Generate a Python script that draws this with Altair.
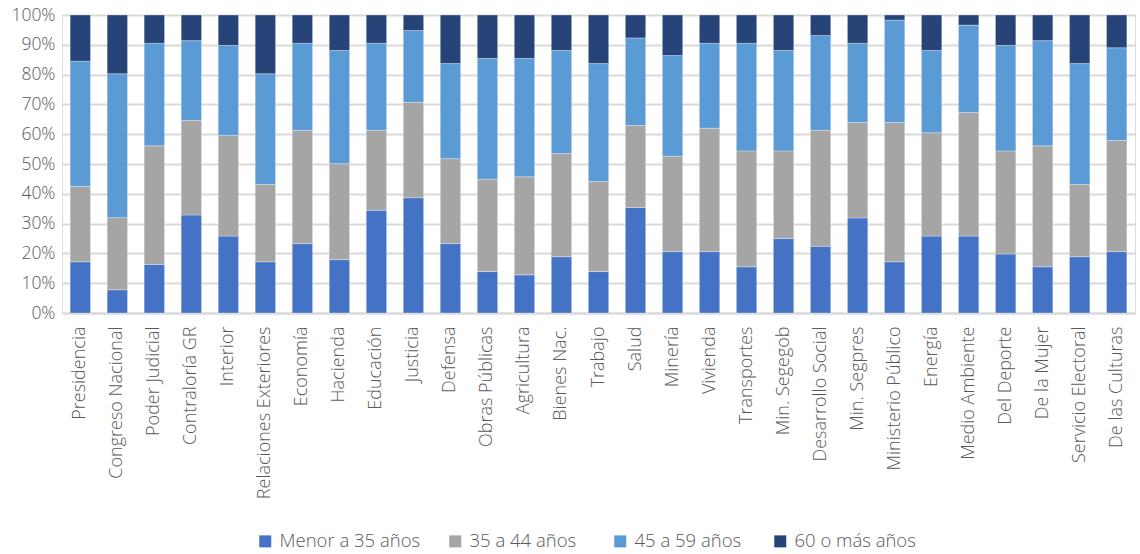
import altair as alt
import pandas as pd

categories = ["Presidencia", "Congreso Nacional", "Poder Judicial", "Contraloría GR", "Interior",
              "Relaciones Exteriores", "Economía", "Hacienda", "Educación", "Justicia", "Defensa",
              "Obras Públicas", "Agricultura", "Bienes Nac.", "Trabajo", "Salud", "Minería",
              "Vivienda", "Transportes", "Min. Segegob", "Desarrollo Social", "Min. Segpres",
              "Ministerio Público", "Energía", "Medio Ambiente", "Del Deporte", "De la Mujer",
              "Servicio Electoral", "De las Culturas"]

legend_labels = ["Menor a 35 años", "35  a  44 años", "45  a 59 años", "60   o más años"]
colors = ["#4472C4", "#A5A5A5", "#5B9BD5", "#264478"]

menor35 = [17.2, 7.8, 16.3, 32.9, 25.8, 17.2, 23.3, 17.9, 34.5, 38.7, 23.3, 13.9, 12.8, 18.9, 13.9,
           35.4, 20.6, 20.6, 15.5, 25.0, 22.4, 31.9, 17.2, 25.8, 25.8, 19.8, 15.5, 18.9, 20.6]
de35a44 = [25.3, 24.2, 39.8, 31.7, 33.8, 25.9, 38.0, 32.2, 26.8, 32.0, 28.5, 31.0, 32.9, 34.6, 30.2,
           27.5, 32.0, 41.4, 38.9, 29.4, 38.9, 32.0, 46.7, 34.7, 41.5, 34.6, 40.6, 24.2, 37.3]
de45a59 = [42.0, 48.3, 34.4, 26.8, 30.2, 37.2, 29.2, 38.0, 29.2, 24.1, 31.9, 40.5, 39.7, 34.6, 39.6,
           29.4, 33.8, 28.5, 36.1, 33.7, 31.8, 26.6, 34.4, 27.6, 29.3, 35.4, 35.3, 40.6, 31.1]
de60 = [15.5, 19.7, 9.5, 8.6, 10.2, 19.7, 9.5, 11.9, 9.5, 5.2, 16.3, 14.6, 14.6, 11.9, 16.3,
        7.7, 13.6, 9.5, 9.5, 11.9, 6.9, 9.5, 1.7, 11.9, 3.4, 10.2, 8.6, 16.3, 11.0]

rows = []
for i, c in enumerate(categories):
    for k, (s, vals) in enumerate(zip(legend_labels, [menor35, de35a44, de45a59, de60])):
        rows.append({"cat": c, "serie": s, "orden": k, "valor": vals[i]})
df = pd.DataFrame(rows)

FONT = "Open Sans"

chart = alt.Chart(df).mark_bar(stroke="white", strokeWidth=0.6, strokeOpacity=0.5).encode(
    x=alt.X("cat:N", sort=categories, title=None,
            scale=alt.Scale(paddingInner=0.45, paddingOuter=0.22),
            axis=alt.Axis(labelAngle=-90, labelFontSize=18, labelColor="#595959",
                          labelFont=FONT, labelFontWeight=300, ticks=False, domainColor="#d9d9d9",
                          domainWidth=2, labelPadding=13, labelLimit=250)),
    y=alt.Y("valor:Q", stack="normalize", title=None,
            scale=alt.Scale(domain=[0, 1]),
            axis=alt.Axis(format="%", values=[i / 10 for i in range(11)], labelFontSize=17.5,
                          labelColor="#595959", labelFont=FONT, labelFontWeight=300,
                          ticks=False, domain=False,
                          gridColor="#d9d9d9", gridWidth=2, labelPadding=7)),
    color=alt.Color("serie:N", sort=legend_labels,
                    scale=alt.Scale(domain=legend_labels, range=colors),
                    legend=alt.Legend(title=None, orient="none", direction="horizontal",
                                      legendX=194, legendY=517, symbolType="square",
                                      symbolSize=144, symbolStrokeWidth=0, labelFontSize=18.5,
                                      labelFont=FONT, labelFontWeight=300, labelColor="#595959",
                                      columnPadding=25, labelOffset=5)),
    order=alt.Order("orden:Q", sort="ascending"),
).properties(
    width=1073, height=298,
    autosize=alt.AutoSizeParams(type="none"),
    padding={"left": 62, "top": 15, "right": 5, "bottom": 241},
).configure_view(stroke=None).configure(background="white")

chart.save("out.html", embed_options={"renderer": "svg", "actions": False})
